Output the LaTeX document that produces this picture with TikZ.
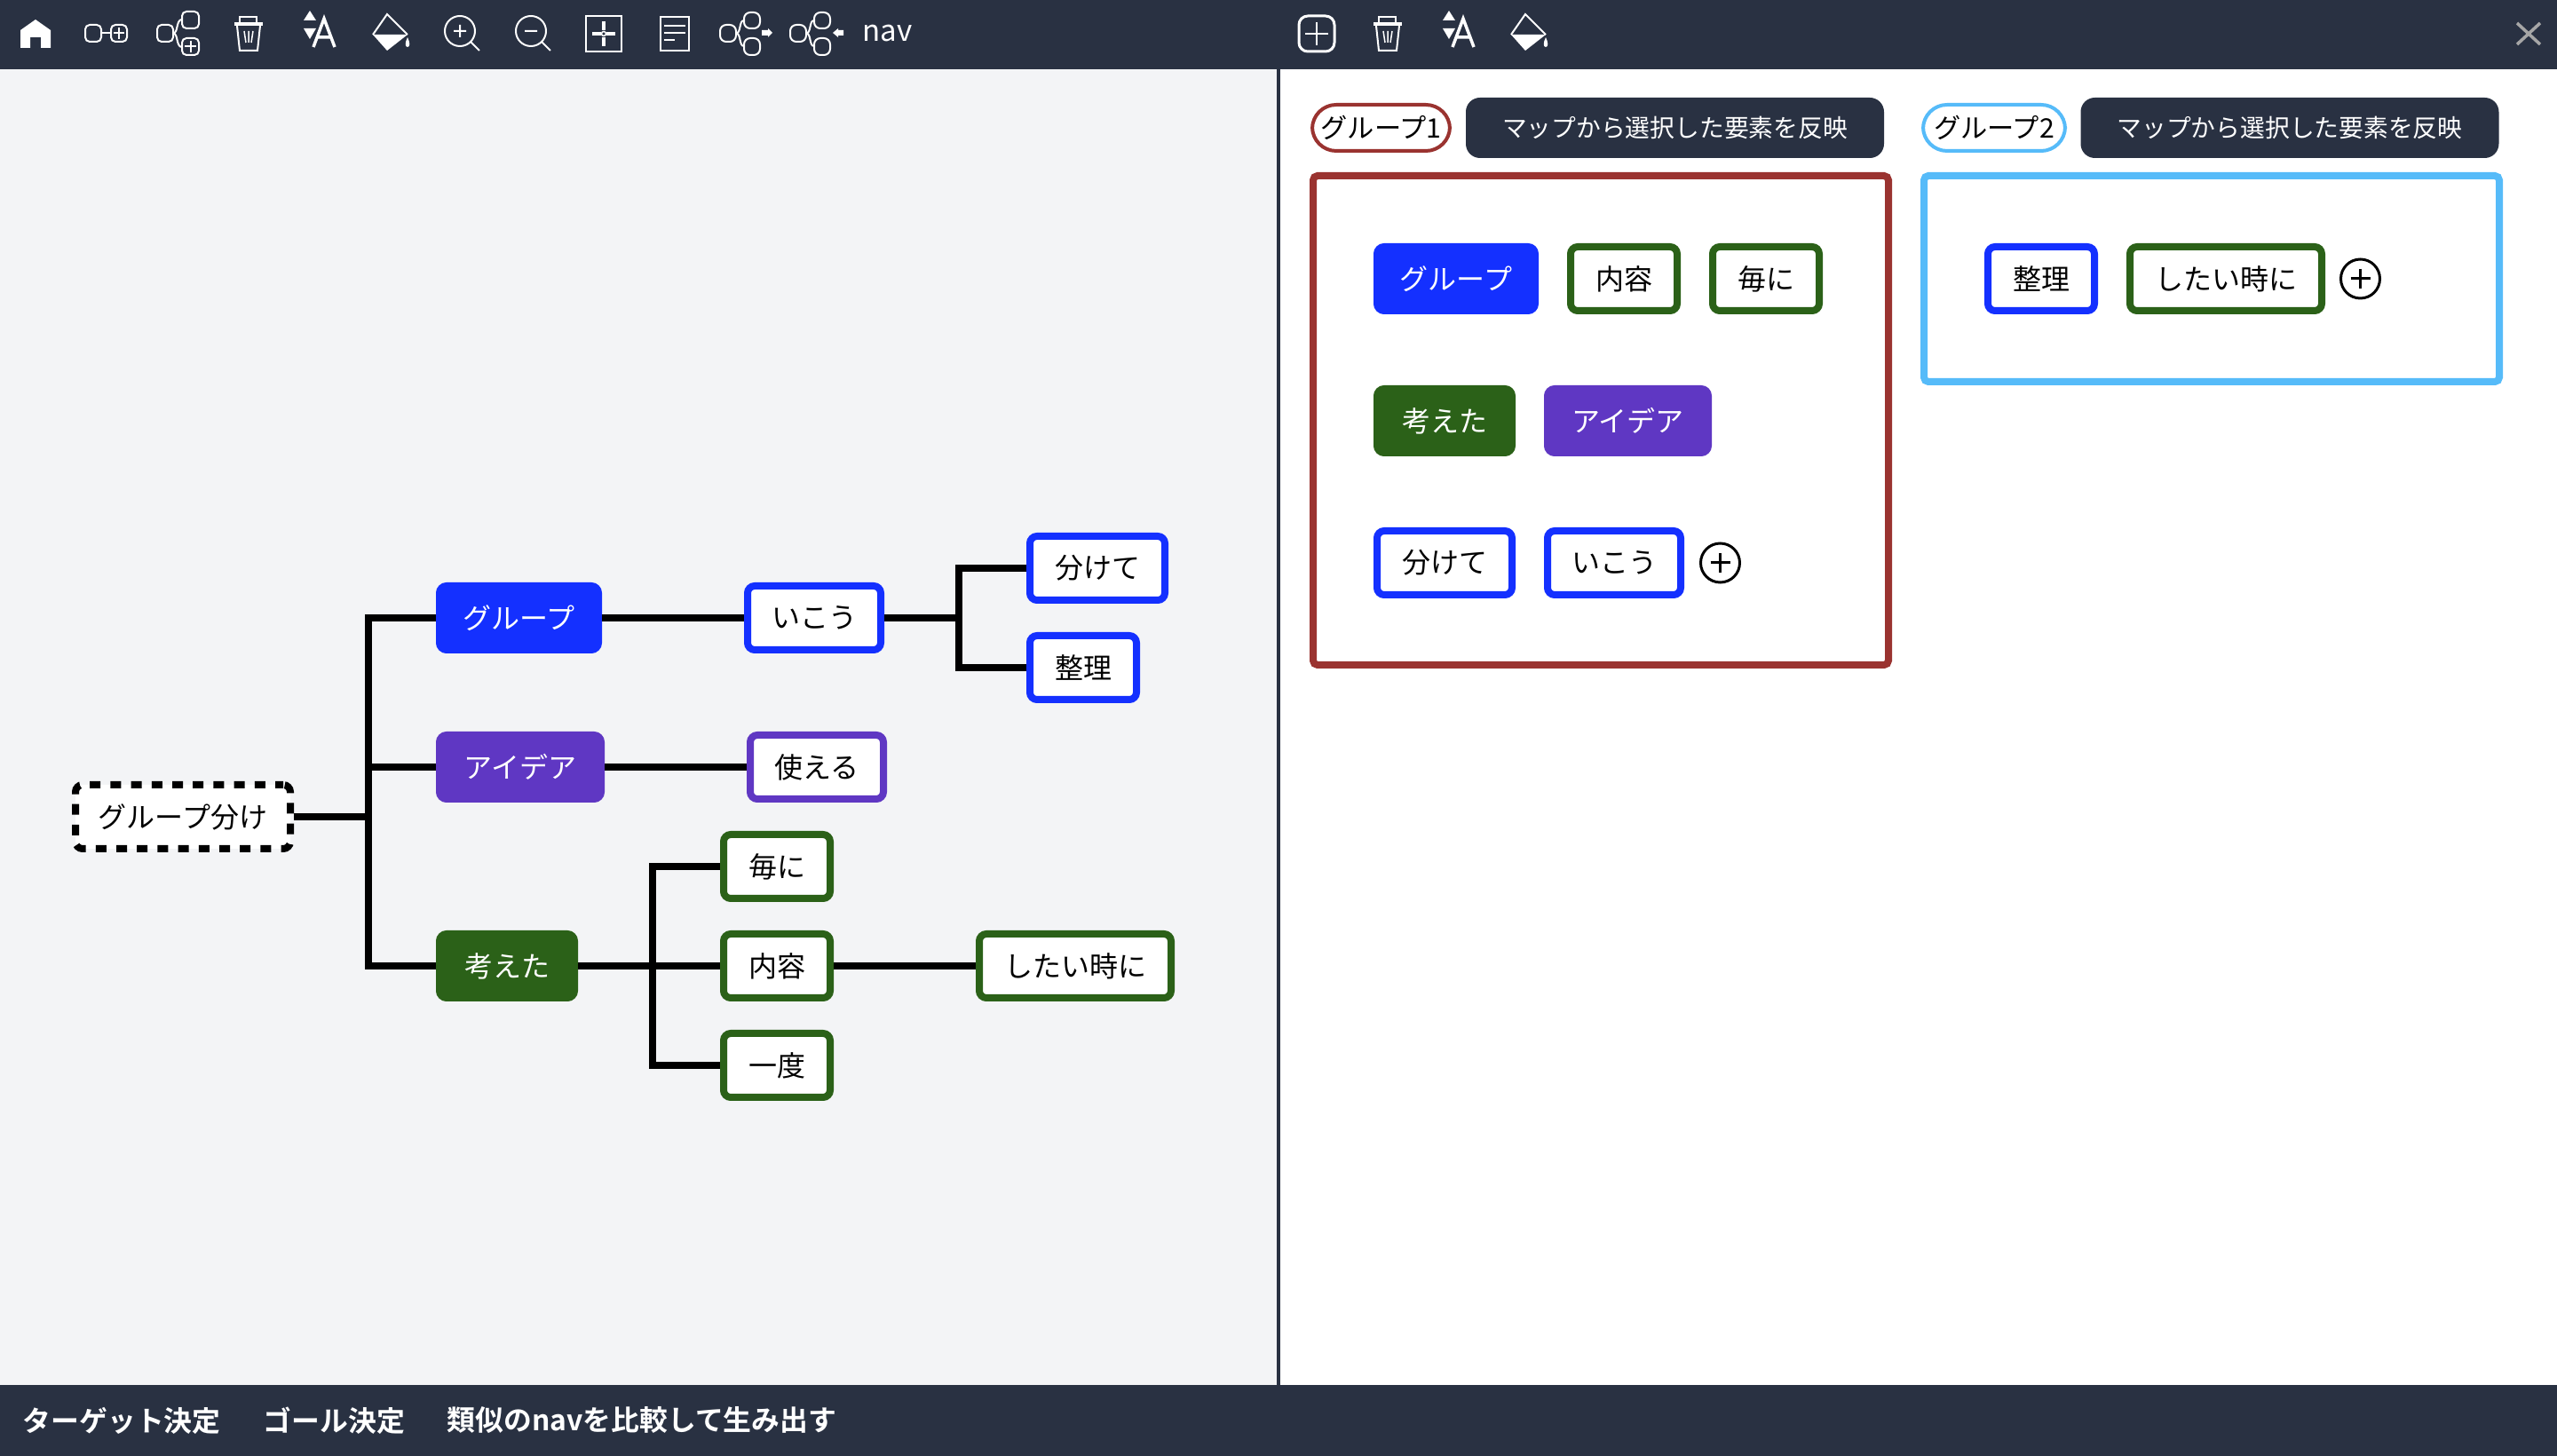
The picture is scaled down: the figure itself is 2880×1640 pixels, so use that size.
\documentclass[tikz,border=0pt]{standalone}
\usepackage{fontspec}
\setmainfont{Noto Sans CJK JP}[BoldFont={Noto Sans CJK JP Bold}]
\usetikzlibrary{positioning}
\definecolor{barnavy}{HTML}{293142}
\definecolor{panelgray}{HTML}{F3F4F6}
\definecolor{mapblue}{HTML}{1430FF}
\definecolor{mappurple}{HTML}{5F37C3}
\definecolor{mapgreen}{HTML}{2B6118}
\definecolor{groupred}{HTML}{9A3330}
\definecolor{groupsky}{HTML}{56BBF9}
\newdimen\pxu \pxu=0.01cm

\begin{document}
\begin{tikzpicture}[x=0.01cm,y=-0.01cm,
  every node/.style={font=\fontsize{9.1}{11}\selectfont},
  chip/.style={rectangle, rounded corners=8\pxu, line width=8\pxu, minimum height=72\pxu, inner sep=0pt},
  solidchip/.style={chip, draw=#1, fill=#1, text=white},
  linechip/.style={chip, draw=#1, fill=white, text=black},
  rootchip/.style={chip, draw=black, fill=white, dash pattern=on 12\pxu off 11.2\pxu, dash phase=3\pxu},
  wire/.style={draw=black, line width=8\pxu},
  pill/.style={rectangle, rounded corners=27\pxu, draw=#1, fill=white, line width=4\pxu, minimum width=155\pxu, minimum height=52\pxu, inner sep=0pt, font=\fontsize{8.6}{11}\selectfont},
  mapbutton/.style={rectangle, rounded corners=16\pxu, fill=barnavy, text=white, minimum width=471\pxu, minimum height=68\pxu, inner sep=0pt, font=\fontsize{7.9}{10}\selectfont},
  groupbox/.style={draw=#1, fill=white, line width=8\pxu, rounded corners=5\pxu},
  addmark/.style={circle, draw=black, line width=3\pxu, minimum size=44\pxu, inner sep=0pt},
  icon/.style={draw=white, line width=2\pxu},
  iconfill/.style={fill=white},
  bartext/.style={text=white, anchor=west, font=\fontsize{9.05}{11}\selectfont\bfseries}]
  \useasboundingbox (0,0) rectangle (2880,1640);

  % panels and bars
  \fill[white] (0,0) rectangle (2880,1640);
  \fill[panelgray] (0,78) rectangle (1438,1560);
  \fill[barnavy] (1438,78) rectangle (1442,1560);
  \fill[barnavy] (0,0) rectangle (2880,78);
  \fill[barnavy] (0,1560) rectangle (2880,1640);

  % map
  \node[rootchip, minimum width=242\pxu] (root) at (206,920) {グループ分け};
  \node[solidchip=mapblue, minimum width=179\pxu] (grp) at (584.5,696) {グループ};
  \node[solidchip=mappurple, minimum width=182\pxu] (idea) at (586,864) {アイデア};
  \node[solidchip=mapgreen, minimum width=152\pxu] (thought) at (571,1088) {考えた};
  \node[linechip=mapblue, minimum width=150\pxu] (ikou) at (917,696) {いこう};
  \node[linechip=mapblue, minimum width=152\pxu] (wakete) at (1236,640) {分けて};
  \node[linechip=mapblue, minimum width=120\pxu] (seiri) at (1220,752) {整理};
  \node[linechip=mappurple, minimum width=150\pxu] (tsukaeru) at (920,864) {使える};
  \node[linechip=mapgreen, minimum width=120\pxu] (maini) at (875,976) {毎に};
  \node[linechip=mapgreen, minimum width=120\pxu] (naiyou) at (875,1088) {内容};
  \node[linechip=mapgreen, minimum width=120\pxu] (ichido) at (875,1200) {一度};
  \node[linechip=mapgreen, minimum width=216\pxu] (shitai) at (1211,1088) {したい時に};

  \coordinate (rootjoin) at (415,920);
  \coordinate (thoughtjoin) at (735,1088);
  \coordinate (ikoujoin) at (1080,696);

  \draw[wire] (root.east) -- (rootjoin);
  \draw[wire] (grp.west) -| (rootjoin);
  \draw[wire] (idea.west) -- (idea.west -| rootjoin);
  \draw[wire] (thought.west) -| (rootjoin);
  \draw[wire] (grp.east) -- (ikou.west);
  \draw[wire] (idea.east) -- (tsukaeru.west);
  \draw[wire] (thought.east) -- (naiyou.west);
  \draw[wire] (naiyou.east) -- (shitai.west);
  \draw[wire] (ikou.east) -- (ikoujoin);
  \draw[wire] (wakete.west) -| (ikoujoin);
  \draw[wire] (seiri.west) -| (ikoujoin);
  \draw[wire] (maini.west) -| (thoughtjoin);
  \draw[wire] (ichido.west) -| (thoughtjoin);

  % group 1
  \node[pill=groupred] (pilla) at (1555.5,144) {グループ1};
  \node[mapbutton] (buttona) at (1886.5,144) {マップから選択した要素を反映};
  \draw[groupbox=groupred] (1479,198) rectangle (2127,749);
  \node[solidchip=mapblue, minimum width=178\pxu] (groupa) at (1640,314) {グループ};
  \node[linechip=mapgreen, minimum width=120\pxu] (naiyoua) at (1829,314) {内容};
  \node[linechip=mapgreen, minimum width=120\pxu] (mainia) at (1989,314) {毎に};
  \node[solidchip=mapgreen, minimum width=152\pxu] (thoughta) at (1627,474) {考えた};
  \node[solidchip=mappurple, minimum width=181\pxu] (ideaa) at (1833.5,474) {アイデア};
  \node[linechip=mapblue, minimum width=152\pxu] (waketea) at (1627,634) {分けて};
  \node[linechip=mapblue, minimum width=150\pxu] (ikoua) at (1818,634) {いこう};
  \node[addmark] (adda) at (1937.5,634) {};

  % group 2
  \node[pill=groupsky, minimum width=160\pxu] (pillb) at (2246,144) {グループ2};
  \node[mapbutton] (buttonb) at (2579,144) {マップから選択した要素を反映};
  \draw[groupbox=groupsky] (2167,198) rectangle (2815,430);
  \node[linechip=mapblue, minimum width=120\pxu] (seirib) at (2299,314) {整理};
  \node[linechip=mapgreen, minimum width=216\pxu] (shitaib) at (2507,314) {したい時に};
  \node[addmark] (addb) at (2658.5,314) {};

  \foreach \mk in {adda,addb} {
    \draw[black, line width=3\pxu] (\mk.center) +(-11,0) -- +(11,0) (\mk.center) +(0,-11) -- +(0,11);
  }

  % top bar, left
  \fill[iconfill] (23,54) -- (23,34) -- (40,22) -- (57,34) -- (57,54) -- (46,54) -- (46,42) -- (34,42) -- (34,54) -- cycle;

  \draw[icon, rounded corners=5\pxu] (96,28) rectangle (114,47);
  \draw[icon, rounded corners=5\pxu] (125,28) rectangle (143,47);
  \draw[icon] (114,37.5) -- (125,37.5) (128,37.5) -- (140,37.5) (134,31) -- (134,44);

  \draw[icon, rounded corners=5\pxu] (177,28) rectangle (195,47);
  \draw[icon, rounded corners=5\pxu] (205,13) rectangle (224,32);
  \draw[icon, rounded corners=5\pxu] (205,43) rectangle (224,62);
  \draw[icon] (195,37.5) .. controls (201,37.5) and (198,22) .. (205,22);
  \draw[icon] (195,37.5) .. controls (201,37.5) and (198,53) .. (205,53);
  \draw[icon] (208,52.5) -- (221,52.5) (214.5,46) -- (214.5,59);

  \foreach \bx in {264,1547} {
    \begin{scope}[shift={(\bx,19)}]
      \draw[icon] (6,6) -- (6,0) -- (25,0) -- (25,6);
      \fill[iconfill] (0,6) rectangle (32,10);
      \draw[icon] (3,10) -- (6,38) -- (26,38) -- (29,10);
      \draw[icon, line width=1.5\pxu] (11,16) -- (13,29) (16,16) -- (16,29) (21,16) -- (19,29);
    \end{scope}
  }

  \foreach \bx in {342,1625} {
    \begin{scope}[shift={(\bx,12)}]
      \fill[iconfill] (7,0) -- (14,11) -- (0,11) -- cycle;
      \fill[iconfill] (0,20) -- (14,20) -- (7,32) -- cycle;
      \draw[white, line width=3.5\pxu] (11,41) -- (23,9) -- (35,41) (15,30) -- (31,30);
    \end{scope}
  }

  \foreach \bx in {420,1702} {
    \begin{scope}[shift={(\bx,16)}]
      \draw[icon] (0,23) -- (16,0) -- (39,23);
      \fill[iconfill] (0,23) -- (39,23) -- (16,41) -- cycle;
      \fill[iconfill] (39,26) .. controls (36,32) and (36,37) .. (39,37) .. controls (42,37) and (42,32) .. (39,26) -- cycle;
    \end{scope}
  }

  \draw[icon] (518,35) circle (17);
  \draw[icon] (530,47) -- (540,57) (511,35) -- (525,35) (518,28) -- (518,42);
  \draw[icon] (598,35) circle (17);
  \draw[icon] (610,47) -- (620,57) (591,35) -- (605,35);

  \draw[white, line width=2.5\pxu] (660,18) rectangle (700,58);
  \draw[white, line width=4\pxu] (680,24) -- (680,34) (680,42) -- (680,52) (667,38) -- (677,38) (683,38) -- (693,38);
  \draw[icon, line width=1.5\pxu] (680,38) circle (2.5);

  \draw[icon] (744,19) rectangle (776,57);
  \draw[icon] (748,29) -- (772,29) (748,37) -- (772,37) (748,45) -- (760,45);

  \foreach \bx in {811,890} {
    \begin{scope}[shift={(\bx,14)}]
      \draw[icon, rounded corners=7\pxu] (0,14) rectangle (18,33);
      \draw[icon, rounded corners=7\pxu] (27,0) rectangle (45,18);
      \draw[icon, rounded corners=7\pxu] (27,29) rectangle (45,48);
      \draw[icon] (18,23.5) .. controls (24,23.5) and (21,9) .. (27,9);
      \draw[icon] (18,23.5) .. controls (24,23.5) and (21,38) .. (27,38);
    \end{scope}
  }
  \fill[iconfill] (858,34) -- (865,34) -- (865,32) -- (870,37) -- (865,42) -- (865,40) -- (858,40) -- cycle;
  \fill[iconfill] (950,34) -- (944,34) -- (944,32) -- (938,37) -- (944,42) -- (944,40) -- (950,40) -- cycle;

  \node[text=white, anchor=base west, inner sep=0pt, font=\fontsize{9.4}{11}\selectfont] (navlabel) at (971,47) {nav};

  % top bar, right
  \draw[white, line width=3\pxu, rounded corners=10\pxu] (1463,18) rectangle (1503,58);
  \draw[icon] (1483,25) -- (1483,51) (1470,38) -- (1496,38);
  \draw[gray!70!white, line width=3.5\pxu] (2835,26) -- (2861,50) (2861,26) -- (2835,50);

  % bottom bar
  \node[bartext, inner sep=0pt] (target) at (25,1600) {ターゲット決定};
  \node[bartext, inner sep=0pt] (goal) at (296,1600) {ゴール決定};
  \node[bartext, inner sep=0pt] (compare) at (503,1600) {類似のnavを比較して生み出す};
\end{tikzpicture}
\end{document}
